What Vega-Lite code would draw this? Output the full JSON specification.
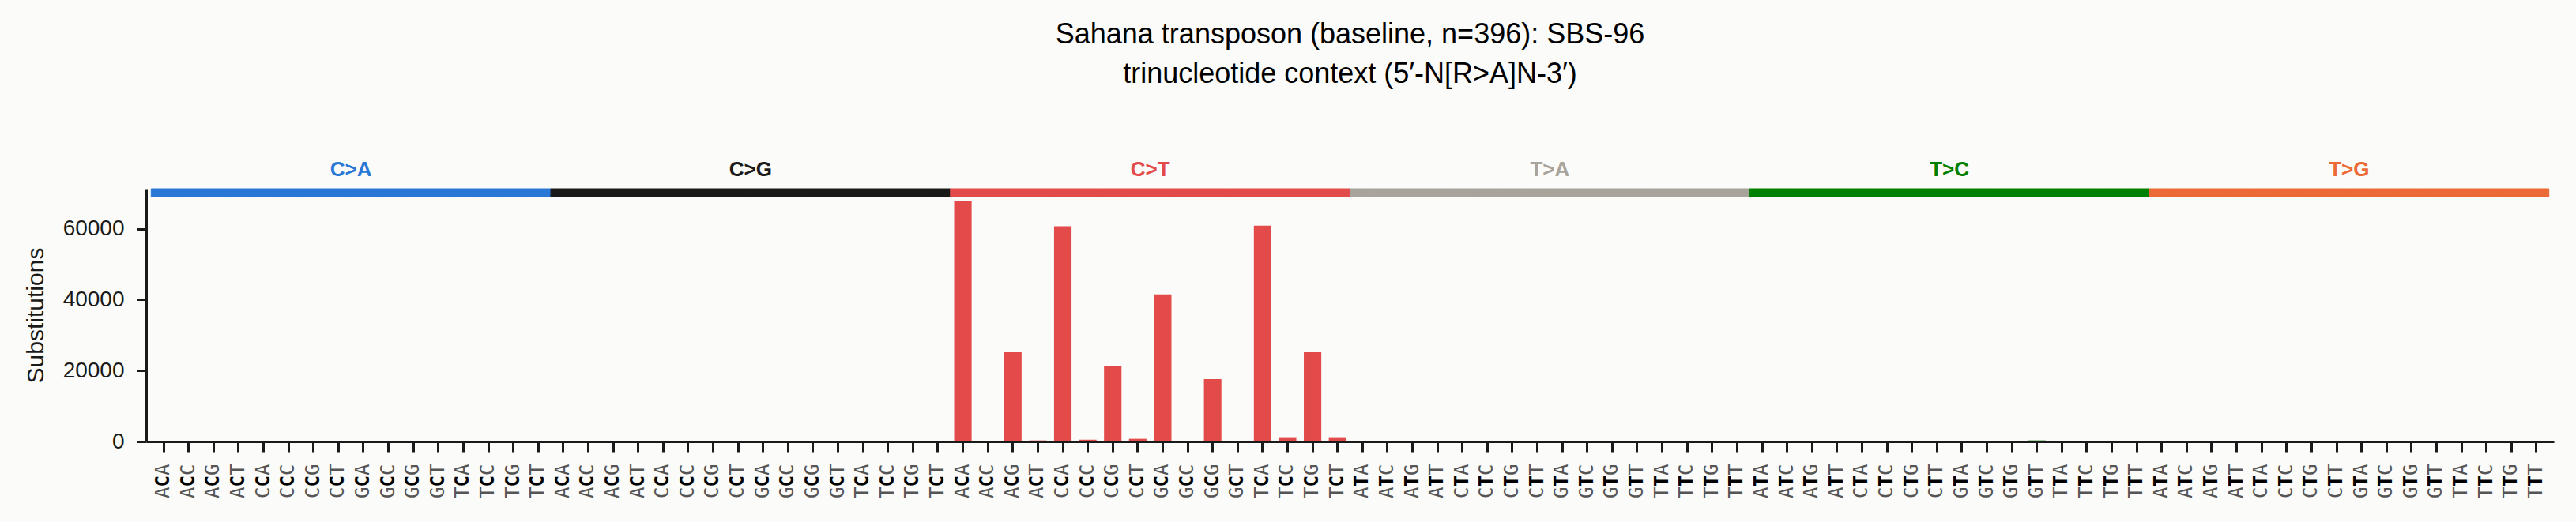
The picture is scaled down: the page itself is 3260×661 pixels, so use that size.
{
  "$schema": "https://vega.github.io/schema/vega-lite/v6.json",
  "width": 3047,
  "height": 320,
  "autosize": {"type": "none"},
  "padding": {"left": 185, "top": 239, "right": 28, "bottom": 102},
  "background": "#fbfbf9",
  "config": {"view": {"stroke": null}},
  "title": {
    "text": ["Sahana transposon (baseline, n=396): SBS-96", "trinucleotide context (5′-N[R>A]N-3′)"],
    "font": "Liberation Sans",
    "fontSize": 36,
    "fontWeight": "normal",
    "color": "#000000",
    "lineHeight": 50,
    "anchor": "middle",
    "frame": "group",
    "offset": 89
  },
  "data": {
    "values": [
      {"key": "ACA C>A", "sub": "C>A", "ctx": "ACA", "count": 0}, {"key": "ACC C>A", "sub": "C>A", "ctx": "ACC", "count": 0}, {"key": "ACG C>A", "sub": "C>A", "ctx": "ACG", "count": 0}, {"key": "ACT C>A", "sub": "C>A", "ctx": "ACT", "count": 0},
      {"key": "CCA C>A", "sub": "C>A", "ctx": "CCA", "count": 0}, {"key": "CCC C>A", "sub": "C>A", "ctx": "CCC", "count": 0}, {"key": "CCG C>A", "sub": "C>A", "ctx": "CCG", "count": 0}, {"key": "CCT C>A", "sub": "C>A", "ctx": "CCT", "count": 0},
      {"key": "GCA C>A", "sub": "C>A", "ctx": "GCA", "count": 0}, {"key": "GCC C>A", "sub": "C>A", "ctx": "GCC", "count": 0}, {"key": "GCG C>A", "sub": "C>A", "ctx": "GCG", "count": 0}, {"key": "GCT C>A", "sub": "C>A", "ctx": "GCT", "count": 0},
      {"key": "TCA C>A", "sub": "C>A", "ctx": "TCA", "count": 0}, {"key": "TCC C>A", "sub": "C>A", "ctx": "TCC", "count": 0}, {"key": "TCG C>A", "sub": "C>A", "ctx": "TCG", "count": 0}, {"key": "TCT C>A", "sub": "C>A", "ctx": "TCT", "count": 0},
      {"key": "ACA C>G", "sub": "C>G", "ctx": "ACA", "count": 0}, {"key": "ACC C>G", "sub": "C>G", "ctx": "ACC", "count": 0}, {"key": "ACG C>G", "sub": "C>G", "ctx": "ACG", "count": 0}, {"key": "ACT C>G", "sub": "C>G", "ctx": "ACT", "count": 0},
      {"key": "CCA C>G", "sub": "C>G", "ctx": "CCA", "count": 0}, {"key": "CCC C>G", "sub": "C>G", "ctx": "CCC", "count": 0}, {"key": "CCG C>G", "sub": "C>G", "ctx": "CCG", "count": 0}, {"key": "CCT C>G", "sub": "C>G", "ctx": "CCT", "count": 0},
      {"key": "GCA C>G", "sub": "C>G", "ctx": "GCA", "count": 0}, {"key": "GCC C>G", "sub": "C>G", "ctx": "GCC", "count": 0}, {"key": "GCG C>G", "sub": "C>G", "ctx": "GCG", "count": 0}, {"key": "GCT C>G", "sub": "C>G", "ctx": "GCT", "count": 0},
      {"key": "TCA C>G", "sub": "C>G", "ctx": "TCA", "count": 0}, {"key": "TCC C>G", "sub": "C>G", "ctx": "TCC", "count": 0}, {"key": "TCG C>G", "sub": "C>G", "ctx": "TCG", "count": 0}, {"key": "TCT C>G", "sub": "C>G", "ctx": "TCT", "count": 0},
      {"key": "ACA C>T", "sub": "C>T", "ctx": "ACA", "count": 67800}, {"key": "ACC C>T", "sub": "C>T", "ctx": "ACC", "count": 0}, {"key": "ACG C>T", "sub": "C>T", "ctx": "ACG", "count": 25200}, {"key": "ACT C>T", "sub": "C>T", "ctx": "ACT", "count": 300},
      {"key": "CCA C>T", "sub": "C>T", "ctx": "CCA", "count": 60700}, {"key": "CCC C>T", "sub": "C>T", "ctx": "CCC", "count": 500}, {"key": "CCG C>T", "sub": "C>T", "ctx": "CCG", "count": 21400}, {"key": "CCT C>T", "sub": "C>T", "ctx": "CCT", "count": 750},
      {"key": "GCA C>T", "sub": "C>T", "ctx": "GCA", "count": 41500}, {"key": "GCC C>T", "sub": "C>T", "ctx": "GCC", "count": 0}, {"key": "GCG C>T", "sub": "C>T", "ctx": "GCG", "count": 17600}, {"key": "GCT C>T", "sub": "C>T", "ctx": "GCT", "count": 0},
      {"key": "TCA C>T", "sub": "C>T", "ctx": "TCA", "count": 60900}, {"key": "TCC C>T", "sub": "C>T", "ctx": "TCC", "count": 1200}, {"key": "TCG C>T", "sub": "C>T", "ctx": "TCG", "count": 25200}, {"key": "TCT C>T", "sub": "C>T", "ctx": "TCT", "count": 1200},
      {"key": "ATA T>A", "sub": "T>A", "ctx": "ATA", "count": 0}, {"key": "ATC T>A", "sub": "T>A", "ctx": "ATC", "count": 0}, {"key": "ATG T>A", "sub": "T>A", "ctx": "ATG", "count": 0}, {"key": "ATT T>A", "sub": "T>A", "ctx": "ATT", "count": 0},
      {"key": "CTA T>A", "sub": "T>A", "ctx": "CTA", "count": 0}, {"key": "CTC T>A", "sub": "T>A", "ctx": "CTC", "count": 0}, {"key": "CTG T>A", "sub": "T>A", "ctx": "CTG", "count": 0}, {"key": "CTT T>A", "sub": "T>A", "ctx": "CTT", "count": 0},
      {"key": "GTA T>A", "sub": "T>A", "ctx": "GTA", "count": 0}, {"key": "GTC T>A", "sub": "T>A", "ctx": "GTC", "count": 0}, {"key": "GTG T>A", "sub": "T>A", "ctx": "GTG", "count": 0}, {"key": "GTT T>A", "sub": "T>A", "ctx": "GTT", "count": 0},
      {"key": "TTA T>A", "sub": "T>A", "ctx": "TTA", "count": 0}, {"key": "TTC T>A", "sub": "T>A", "ctx": "TTC", "count": 0}, {"key": "TTG T>A", "sub": "T>A", "ctx": "TTG", "count": 0}, {"key": "TTT T>A", "sub": "T>A", "ctx": "TTT", "count": 0},
      {"key": "ATA T>C", "sub": "T>C", "ctx": "ATA", "count": 0}, {"key": "ATC T>C", "sub": "T>C", "ctx": "ATC", "count": 0}, {"key": "ATG T>C", "sub": "T>C", "ctx": "ATG", "count": 0}, {"key": "ATT T>C", "sub": "T>C", "ctx": "ATT", "count": 0},
      {"key": "CTA T>C", "sub": "T>C", "ctx": "CTA", "count": 0}, {"key": "CTC T>C", "sub": "T>C", "ctx": "CTC", "count": 0}, {"key": "CTG T>C", "sub": "T>C", "ctx": "CTG", "count": 0}, {"key": "CTT T>C", "sub": "T>C", "ctx": "CTT", "count": 0},
      {"key": "GTA T>C", "sub": "T>C", "ctx": "GTA", "count": 0}, {"key": "GTC T>C", "sub": "T>C", "ctx": "GTC", "count": 0}, {"key": "GTG T>C", "sub": "T>C", "ctx": "GTG", "count": 0}, {"key": "GTT T>C", "sub": "T>C", "ctx": "GTT", "count": 300},
      {"key": "TTA T>C", "sub": "T>C", "ctx": "TTA", "count": 0}, {"key": "TTC T>C", "sub": "T>C", "ctx": "TTC", "count": 0}, {"key": "TTG T>C", "sub": "T>C", "ctx": "TTG", "count": 0}, {"key": "TTT T>C", "sub": "T>C", "ctx": "TTT", "count": 0},
      {"key": "ATA T>G", "sub": "T>G", "ctx": "ATA", "count": 0}, {"key": "ATC T>G", "sub": "T>G", "ctx": "ATC", "count": 0}, {"key": "ATG T>G", "sub": "T>G", "ctx": "ATG", "count": 0}, {"key": "ATT T>G", "sub": "T>G", "ctx": "ATT", "count": 0},
      {"key": "CTA T>G", "sub": "T>G", "ctx": "CTA", "count": 0}, {"key": "CTC T>G", "sub": "T>G", "ctx": "CTC", "count": 0}, {"key": "CTG T>G", "sub": "T>G", "ctx": "CTG", "count": 0}, {"key": "CTT T>G", "sub": "T>G", "ctx": "CTT", "count": 0},
      {"key": "GTA T>G", "sub": "T>G", "ctx": "GTA", "count": 0}, {"key": "GTC T>G", "sub": "T>G", "ctx": "GTC", "count": 0}, {"key": "GTG T>G", "sub": "T>G", "ctx": "GTG", "count": 0}, {"key": "GTT T>G", "sub": "T>G", "ctx": "GTT", "count": 0},
      {"key": "TTA T>G", "sub": "T>G", "ctx": "TTA", "count": 0}, {"key": "TTC T>G", "sub": "T>G", "ctx": "TTC", "count": 0}, {"key": "TTG T>G", "sub": "T>G", "ctx": "TTG", "count": 0}, {"key": "TTT T>G", "sub": "T>G", "ctx": "TTT", "count": 0}
    ]
  },
  "layer": [
    {
      "mark": {"type": "bar"},
      "encoding": {
        "x": {
          "field": "key",
          "type": "nominal",
          "sort": null,
          "scale": {"paddingInner": 0.3, "paddingOuter": 0.35},
          "axis": {
            "orient": "bottom",
            "title": null,
            "labelExpr": "substring(datum.value, 2, 3)",
            "labelAngle": 270,
            "labelFont": "DejaVu Sans Mono",
            "labelFontSize": 24,
            "labelColor": "#555555",
            "labelPadding": 15,
            "labelOverlap": false,
            "labelBound": false,
            "labelFlush": false,
            "ticks": true,
            "tickSize": 13,
            "tickWidth": 3,
            "tickColor": "#1a1a1a",
            "domain": true,
            "domainWidth": 3,
            "domainColor": "#1a1a1a",
            "grid": false
          }
        },
        "y": {
          "field": "count",
          "type": "quantitative",
          "title": "Substitutions",
          "scale": {"domain": [0, 71300], "nice": false, "zero": true},
          "axis": {
            "values": [0, 20000, 40000, 60000],
            "format": "d",
            "labelFont": "Liberation Sans",
            "labelFontSize": 28,
            "labelColor": "#1a1a1a",
            "labelPadding": 16,
            "tickSize": 12,
            "tickWidth": 3,
            "tickColor": "#1a1a1a",
            "domainWidth": 3,
            "domainColor": "#1a1a1a",
            "grid": false,
            "titleFont": "Liberation Sans",
            "titleFontSize": 30,
            "titleFontWeight": "normal",
            "titleColor": "#1a1a1a",
            "titlePadding": 19
          }
        },
        "color": {
          "field": "sub",
          "type": "nominal",
          "scale": {
            "domain": ["C>A", "C>G", "C>T", "T>A", "T>C", "T>G"],
            "range": ["#2a78d6", "#1a1a1a", "#e34a4a", "#a8a49c", "#008000", "#eb6a35"]
          },
          "legend": null
        }
      }
    },
    {
      "mark": {"type": "bar", "width": {"band": 1.4286}, "strokeWidth": 1},
      "encoding": {
        "x": {
          "field": "key",
          "type": "nominal",
          "sort": null,
          "axis": {
            "orient": "bottom",
            "title": null,
            "labelExpr": "substring(datum.value, 1, 2)",
            "labelAngle": 270,
            "labelFont": "DejaVu Sans Mono",
            "labelFontSize": 24,
            "labelFontWeight": "bold",
            "labelColor": "#000000",
            "labelPadding": 42.5,
            "labelOverlap": false,
            "labelBound": false,
            "labelFlush": false,
            "ticks": false,
            "domain": false,
            "grid": false
          }
        },
        "y": {"datum": 71300, "type": "quantitative", "title": "Substitutions"},
        "y2": {"datum": 69050},
        "color": {"field": "sub", "type": "nominal", "legend": null},
        "stroke": {"field": "sub", "type": "nominal", "scale": {"domain": ["C>A", "C>G", "C>T", "T>A", "T>C", "T>G"], "range": ["#2a78d6", "#1a1a1a", "#e34a4a", "#a8a49c", "#008000", "#eb6a35"]}, "legend": null}
      }
    },
    {
      "mark": {"type": "text", "font": "Liberation Sans", "fontSize": 26, "fontWeight": "bold", "baseline": "middle", "align": "center", "dy": -24},
      "encoding": {
        "x": {
          "field": "key",
          "type": "nominal",
          "sort": null,
          "bandPosition": 1.2143,
          "axis": {
            "orient": "bottom",
            "title": null,
            "labelExpr": "substring(datum.value, 0, 1)",
            "labelAngle": 270,
            "labelFont": "DejaVu Sans Mono",
            "labelFontSize": 24,
            "labelColor": "#555555",
            "labelPadding": 57,
            "labelOverlap": false,
            "labelBound": false,
            "labelFlush": false,
            "ticks": false,
            "domain": false,
            "grid": false
          }
        },
        "y": {"datum": 71300, "type": "quantitative", "title": "Substitutions"},
        "text": {"condition": {"test": "datum.ctx === 'CCT' || datum.ctx === 'CTT'", "field": "sub"}, "value": ""},
        "color": {"field": "sub", "type": "nominal", "legend": null}
      }
    }
  ],
  "resolve": {"axis": {"x": "independent"}}
}
